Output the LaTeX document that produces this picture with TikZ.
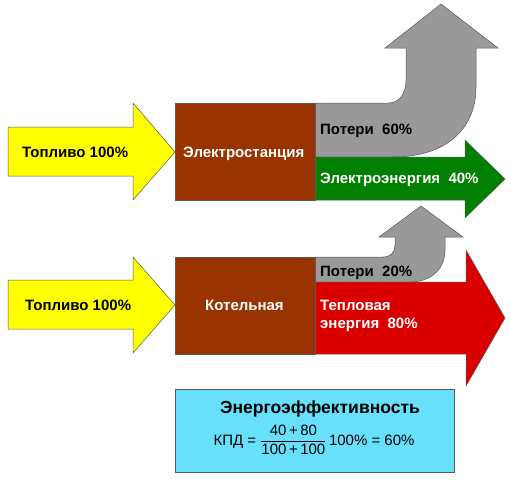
\documentclass[tikz,border=0pt]{standalone}
\usepackage{fontspec}
\usepackage{amsmath}
\setmainfont{Liberation Sans}
\usetikzlibrary{positioning}
\definecolor{fuelyellow}{RGB}{255,255,0}
\definecolor{plantbrown}{RGB}{153,51,0}
\definecolor{lossgray}{RGB}{153,153,153}
\definecolor{elecgreen}{RGB}{0,128,0}
\definecolor{heatred}{RGB}{218,0,0}
\definecolor{effcyan}{RGB}{104,224,252}

\begin{document}
\begin{tikzpicture}[x=1pt, y=-1pt,
  block/.style={draw=black!65, line width=0.5pt},
  fuel/.style={block, fill=fuelyellow},
  plant/.style={block, fill=plantbrown},
  loss/.style={block, fill=lossgray},
  elec/.style={block, fill=elecgreen},
  heat/.style={block, fill=heatred},
  effbox/.style={block, fill=effcyan},
  lbl/.style={inner sep=0pt, anchor=base west, font=\fontsize{15}{17}\selectfont\bfseries},
  wlbl/.style={lbl, text=white},
]
\useasboundingbox (0,0) rectangle (511,480);

% power station
\draw[loss] (315,103) -- (388,103) .. controls (399,103) and (406,94) .. (406,80)
  -- (406,48) -- (385,48) -- (441,4) -- (498,48) -- (476,48) -- (476,87)
  .. controls (476,130) and (445,157) .. (393,157) -- (315,157) -- cycle;
\draw[elec] (315,157) -- (465,157) -- (465,140) -- (505,179) -- (465,218)
  -- (465,200) -- (315,200) -- cycle;
\draw[fuel] (8,127) -- (133,127) -- (133,103) -- (175,152) -- (133,200)
  -- (133,176) -- (8,176) -- cycle;
\draw[plant] (175,103) rectangle (315,200);

\node[lbl]  (fuelA)  at (22,157)  {Топливо 100\%};
\node[wlbl] (plantA) at (183,157) {Электростанция};
\node[lbl]  (lossA)  at (320,134) {Потери\ \ 60\%};
\node[wlbl] (elecA)  at (320,183) {Электроэнергия\ \ 40\%};

% boiler house
\draw[loss] (315,257) -- (383,257) .. controls (391,257) and (395,252) .. (395,245)
  -- (395,237) -- (379,237) -- (421,206) -- (463,237) -- (445,237) -- (445,250)
  .. controls (445,270) and (430,282) .. (410,282) -- (315,282) -- cycle;
\draw[heat] (315,282) -- (466,282) -- (466,250) -- (505,318) -- (466,386)
  -- (466,354) -- (315,354) -- cycle;
\draw[fuel] (8,280) -- (133,280) -- (133,257) -- (175,305) -- (133,353)
  -- (133,329) -- (8,329) -- cycle;
\draw[plant] (175,257) rectangle (315,354);

\node[lbl]  (fuelB)  at (25,310)  {Топливо 100\%};
\node[wlbl] (plantB) at (205,310) {Котельная};
\node[lbl]  (lossB)  at (320,276) {Потери\ \ 20\%};
\node[wlbl] (heatB)  at (320,310) {Тепловая};
\node[wlbl] (heatB2) at (320,328) {энергия\ \ 80\%};

% efficiency
\draw[effbox] (175,389) rectangle (454,472);
\node[lbl, anchor=base, font=\fontsize{17.5}{20}\selectfont\bfseries] (effT) at (320,413) {Энергоэффективность};
\node[inner sep=0pt, anchor=base, font=\fontsize{15}{17}\selectfont] (effF) at (314,445)
  {КПД = $\dfrac{\text{40\,+\,80}}{\text{100\,+\,100}}$\,100\% = 60\%};
\end{tikzpicture}
\end{document}
